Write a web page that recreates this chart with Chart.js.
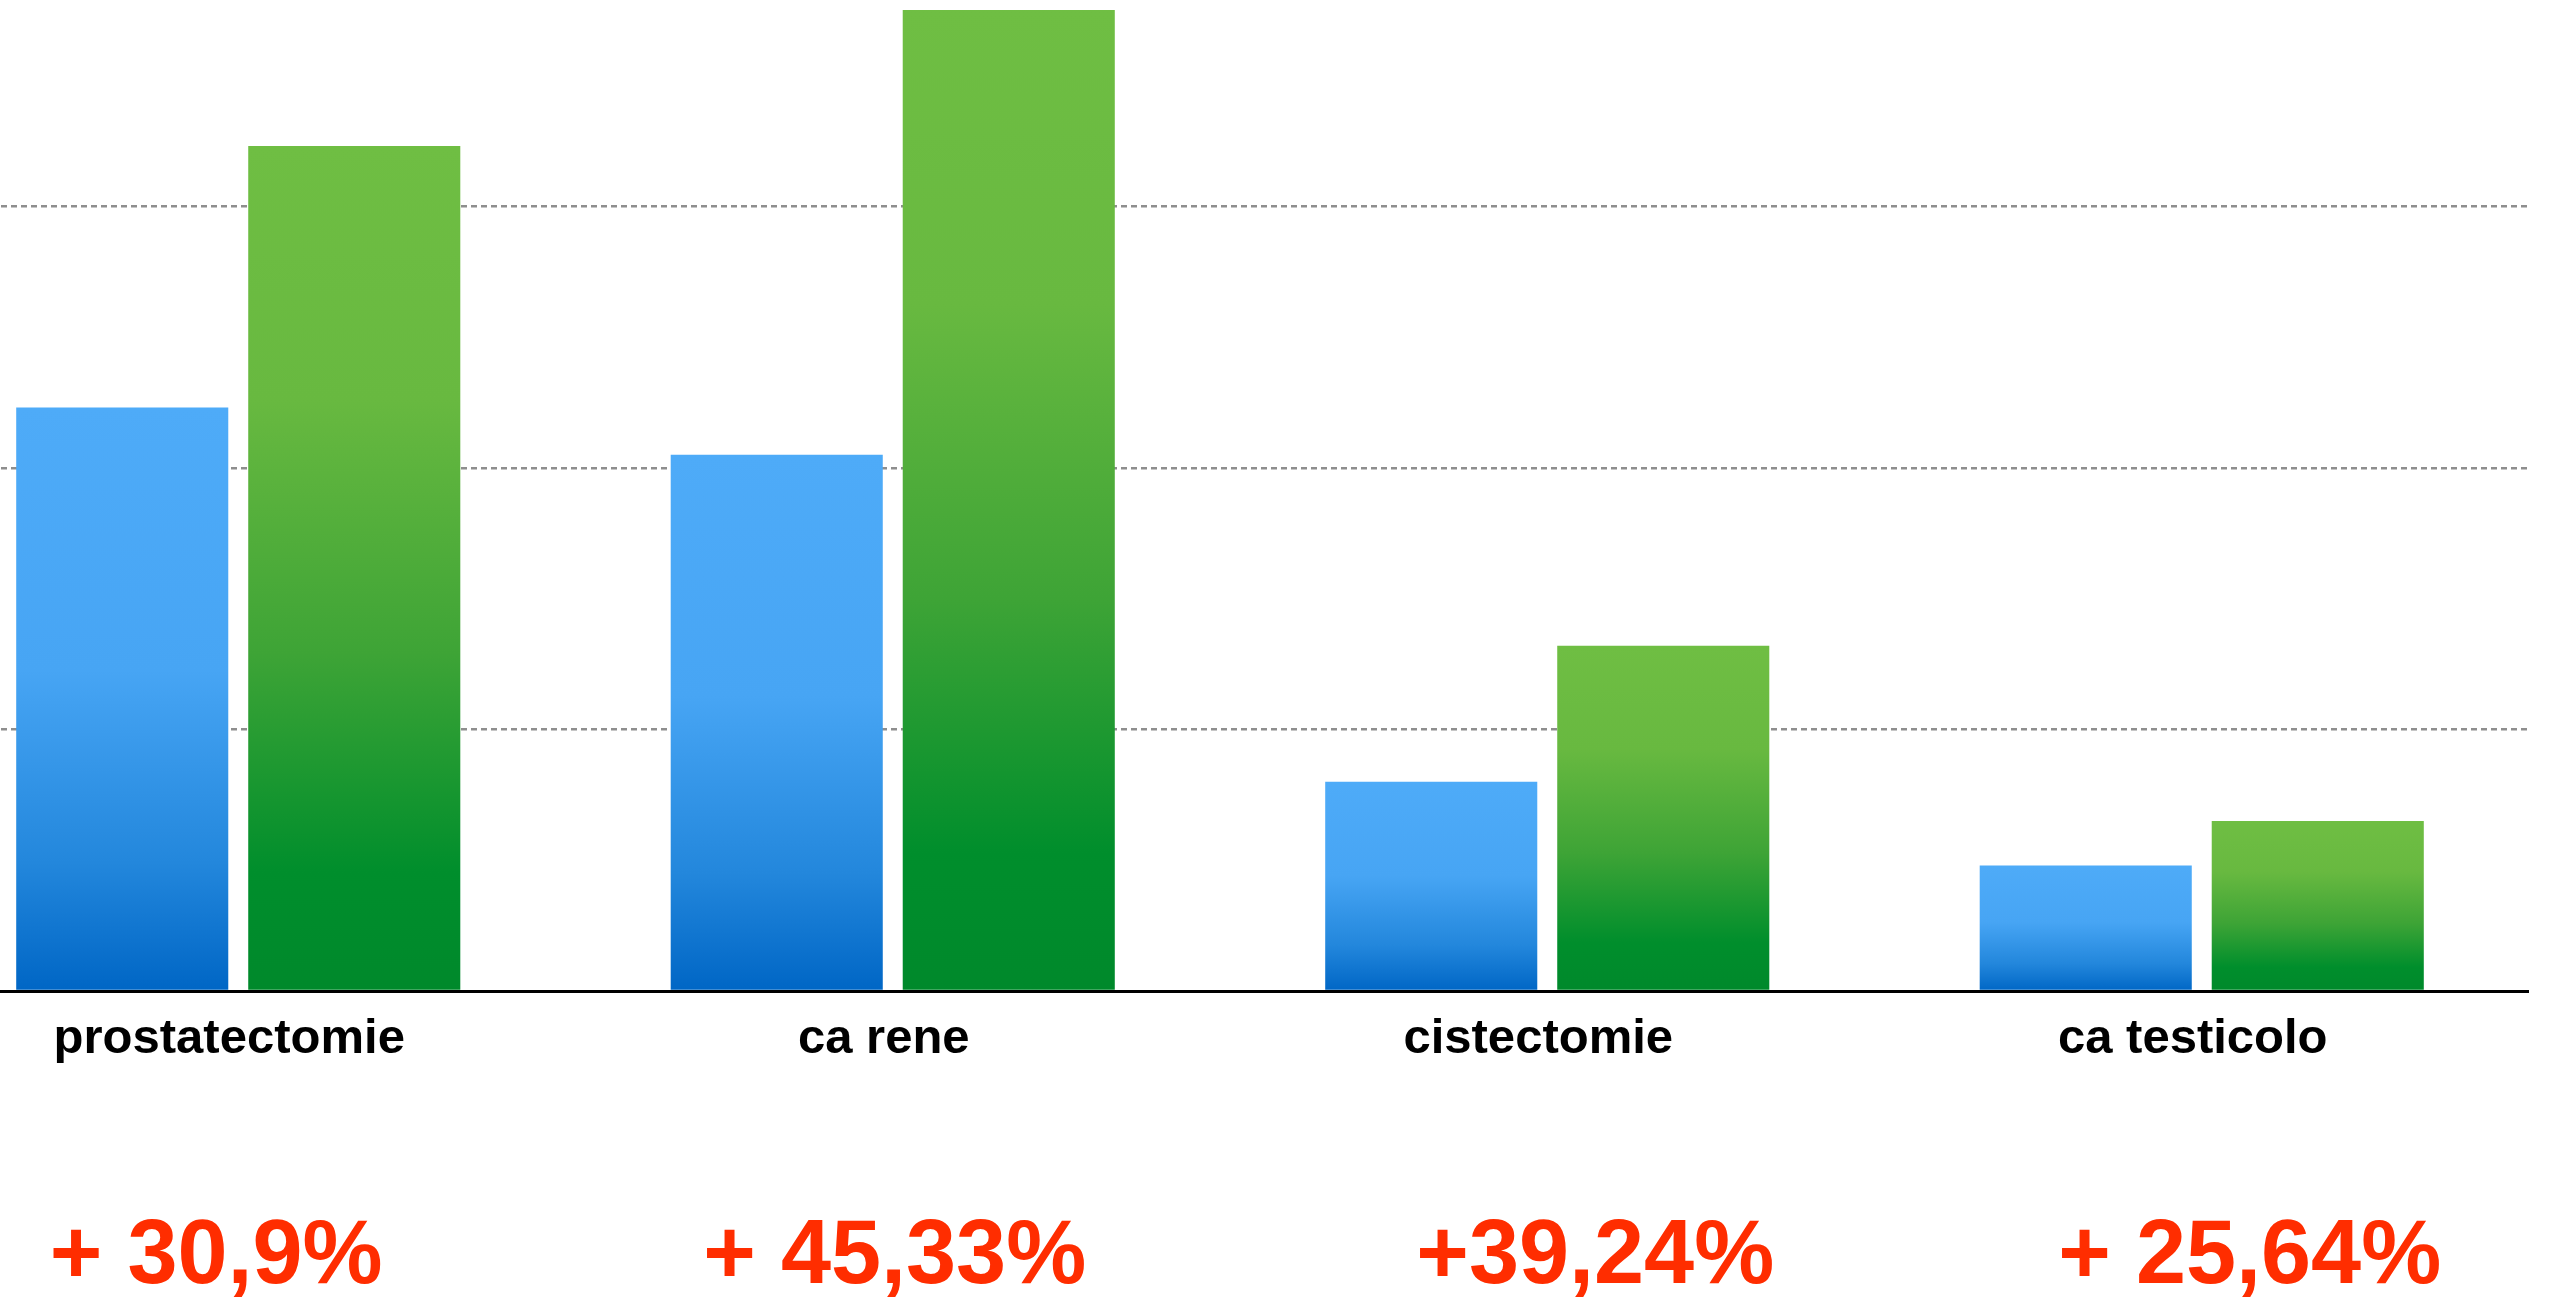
<!DOCTYPE html>
<html>
<head>
<meta charset="utf-8">
<title>Interventi</title>
<script src="https://cdn.jsdelivr.net/npm/chart.js@4/dist/chart.umd.min.js"></script>
<style>
    html, body { margin: 0; padding: 0; background: #fff; overflow: hidden; }
    body { width: 2550px; height: 1297px; position: relative; }
    /* the plot is cropped on the left, like the original slide */
    #wrap { position: absolute; left: -89px; top: 0; width: 2618px; height: 1297px; }
</style>
</head>
<body>
<div id="wrap"><canvas id="chart"></canvas></div>
<script>
const categories = ['prostatectomie', 'ca rene', 'cistectomie', 'ca testicolo'];
const seriesBefore = [223, 205, 80, 48];
const seriesAfter = [323, 375, 132, 65];
const pctLabels = ['+ 30,9%', '+ 45,33%', '+39,24%', '+ 25,64%'];
const gridValues = [100, 200, 300];

// small horizontal nudges of the red labels, as placed on the slide
const pctShift = [-22, 2, 48, 48];

const FONT = '"Liberation Sans", Arial, Helvetica, sans-serif';

const blueStops = [[0, '#4eabf8'], [0.45, '#47a5f4'], [0.78, '#2387dc'], [1, '#0066c5']];
const greenStops = [[0, '#6fbe43'], [0.3, '#68b940'], [0.6, '#3ea436'], [0.86, '#008e2c'], [1, '#00892b']];

function barGradient(stops) {
    return function(c) {
        const chart = c.chart;
        if (!chart.chartArea || c.type !== 'data' || !chart.scales.y) return stops[0][1];
        const y = chart.scales.y;
        const top = y.getPixelForValue(c.raw);
        const bottom = y.getPixelForValue(0);
        const g = chart.ctx.createLinearGradient(0, top, 0, bottom);
        stops.forEach(s => g.addColorStop(s[0], s[1]));
        return g;
    };
}

const pctPlugin = {
    id: 'pctLabels',
    afterDraw(chart) {
        const ctx = chart.ctx;
        const x = chart.scales.x;
        ctx.save();
        ctx.font = 'bold 90px ' + FONT;
        ctx.fillStyle = '#ff2d00';
        ctx.textAlign = 'center';
        ctx.textBaseline = 'alphabetic';
        pctLabels.forEach((t, i) => {
            ctx.fillText(t, x.getPixelForValue(i) + pctShift[i], 1283);
        });
        ctx.restore();
    }
};

new Chart(document.getElementById('chart'), {
    type: 'bar',
    data: {
        labels: categories,
        datasets: [
            { label: 'prima', data: seriesBefore, backgroundColor: barGradient(blueStops), borderWidth: 0 },
            { label: 'dopo', data: seriesAfter, backgroundColor: barGradient(greenStops), borderWidth: 0 }
        ]
    },
    options: {
        responsive: true,
        maintainAspectRatio: false,
        animation: false,
        layout: { padding: 0 },
        categoryPercentage: 0.709,
        barPercentage: 0.914,
        plugins: {
            legend: { display: false },
            tooltip: { enabled: false }
        },
        scales: {
            x: {
                grid: { display: false, drawTicks: false },
                border: { display: true, color: '#000', width: 3 },
                ticks: {
                    color: '#000',
                    font: { family: FONT, size: 49, weight: 'bold' },
                    padding: 19,
                    labelOffset: -9,
                    maxRotation: 0,
                    autoSkip: false
                },
                afterFit: function(scale) { scale.height = 1297 - 991; }
            },
            y: {
                min: 0,
                max: 378.8,
                ticks: { display: false, stepSize: 100 },
                border: { display: false, dash: [6, 4] },
                grid: {
                    drawTicks: false,
                    lineWidth: 2.5,
                    color: c => gridValues.includes(c.tick && c.tick.value) ? '#8e8e8e' : 'rgba(0,0,0,0)'
                },
                afterFit: function(scale) { scale.width = 0; }
            }
        }
    },
    plugins: [pctPlugin]
});
</script>
</body>
</html>
